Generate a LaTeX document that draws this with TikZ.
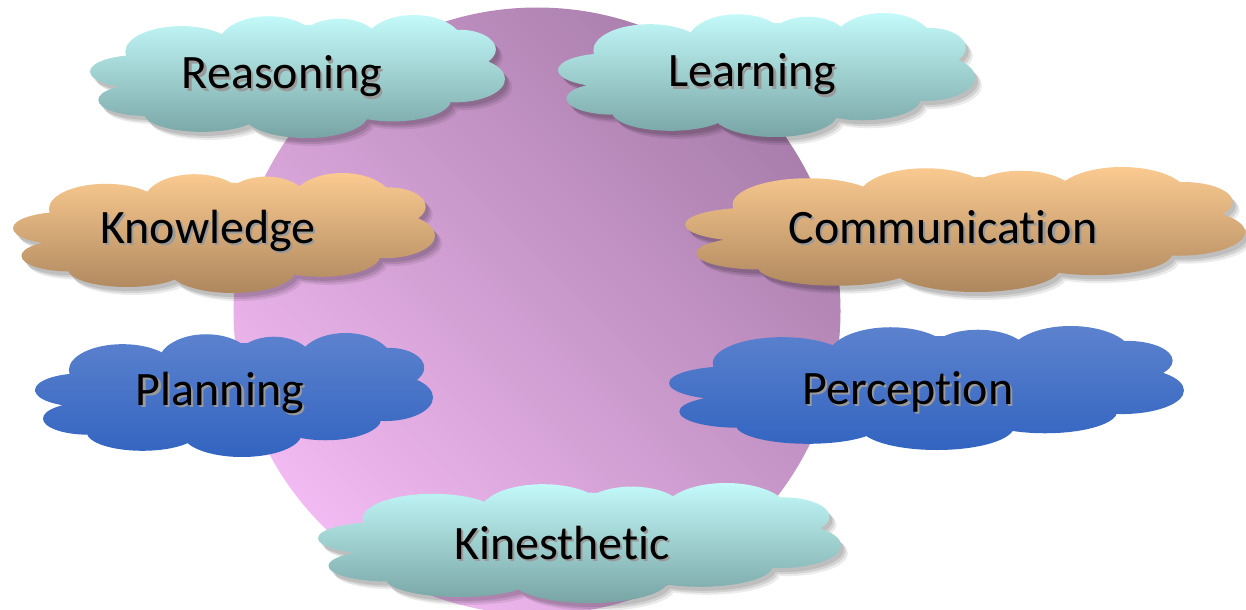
\documentclass[tikz,border=0pt]{standalone}
\usepackage{fontspec}
\setmainfont{Carlito}[Ligatures=NoCommon]
\usepackage{xcolor}
\definecolor{circpink}{HTML}{F2BAF2}
\definecolor{circmauve}{HTML}{A87DAB}
\definecolor{tealtop}{HTML}{C4FAFA}
\definecolor{tealbot}{HTML}{78A4A4}
\definecolor{orgtop}{HTML}{FACA90}
\definecolor{orgbot}{HTML}{AE875E}
\definecolor{bluetop}{HTML}{5C82CE}
\definecolor{bluebot}{HTML}{3264C0}
\newcommand\lobelist{0.12/0.46/0.12/0.135, 0.133/0.69/0.113/0.13, 0.22/0.30/0.135/0.21, 0.43/0.24/0.12/0.23, 0.60/0.24/0.10/0.21, 0.78/0.24/0.12/0.24, 0.89/0.28/0.088/0.16, 0.88/0.52/0.12/0.19, 0.73/0.69/0.14/0.175, 0.52/0.81/0.15/0.19, 0.27/0.80/0.14/0.15, 0.5/0.5/0.41/0.36, 0.5/0.48/0.30/0.40}
\newcommand\mycloud[6]{%
  \begin{scope}[shift={(#1,-#2)}, xscale=#3, yscale=#4]
    \path[top color=#5, bottom color=#6] foreach \a/\b/\c/\d in \lobelist {(\a,-\b) ellipse [x radius=\c, y radius=\d]};
  \end{scope}}
\newcommand\myshadow[4]{%
  \foreach \ox/\oy/\op in {3/4/0.10, 5/6/0.10, 7/8/0.08}{%
  \begin{scope}[shift={({#1+\ox},{-#2-\oy})}, xscale=#3, yscale=#4]
    \fill[black, opacity=\op] foreach \a/\b/\c/\d in \lobelist {(\a,-\b) ellipse [x radius=\c, y radius=\d]};
  \end{scope}}}
\newcommand\shtext[1]{\makebox[0pt][l]{\hspace{1.6pt}\raisebox{-1.6pt}{\textcolor{black!40}{#1}}}#1}
\tikzset{lbl/.style={inner sep=0pt, anchor=base, font=\fontsize{36}{43}\selectfont}}
\begin{document}
\begin{tikzpicture}[x=0.75pt, y=0.75pt]
\useasboundingbox (0,0) rectangle (1246,-610);
% big circle
\path[top color=circmauve, bottom color=circpink, shading angle=-45] (537,-311) circle (303.5);
% shadows
\myshadow{90}{15}{415}{123}
\myshadow{558}{13}{417}{124}
\myshadow{13}{173}{422}{120}
\myshadow{685}{167}{560}{125}
\myshadow{318}{483}{523}{120}
% clouds
\mycloud{90}{15}{415}{123}{tealtop}{tealbot}
\mycloud{558}{13}{417}{124}{tealtop}{tealbot}
\mycloud{13}{173}{422}{120}{orgtop}{orgbot}
\mycloud{685}{167}{560}{125}{orgtop}{orgbot}
\mycloud{35}{333}{398}{124}{bluetop}{bluebot}
\mycloud{669}{326}{515}{124}{bluetop}{bluebot}
\mycloud{318}{483}{523}{120}{tealtop}{tealbot}
% labels
\node[lbl] (reasoning) at (282,-89) {\shtext{Reasoning}};
\node[lbl] (learning) at (752,-87) {\shtext{Learning}};
\node[lbl] (knowledge) at (208,-243) {\shtext{Knowledge}};
\node[lbl] (communication) at (943,-243) {\shtext{Communication}};
\node[lbl] (planning) at (220,-405) {\shtext{Planning}};
\node[lbl] (perception) at (908,-404) {\shtext{Perception}};
\node[lbl] (kinesthetic) at (562,-559) {\shtext{Kinesthetic}};
\end{tikzpicture}
\end{document}
